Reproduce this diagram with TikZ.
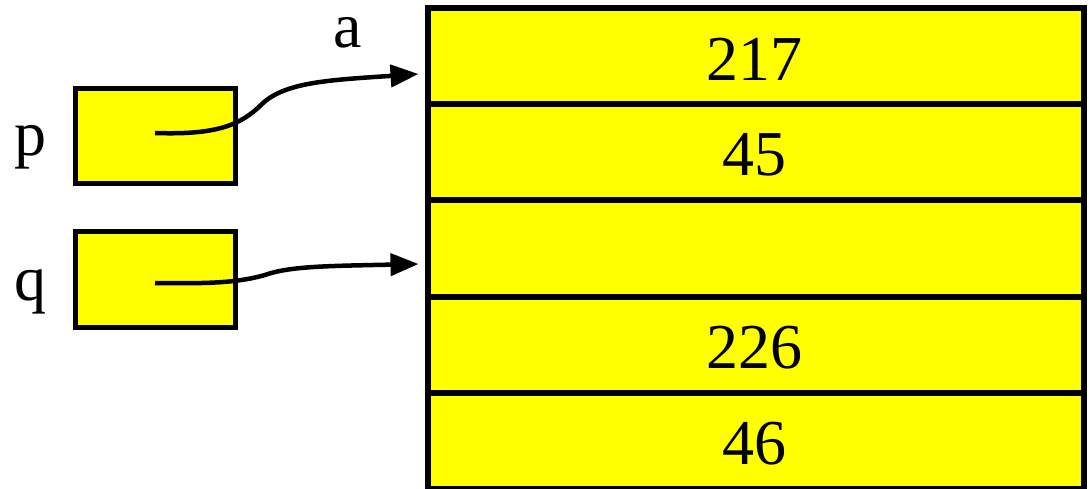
\documentclass[tikz,border=0pt]{standalone}
\usepackage{fontspec}
\setmainfont{Liberation Serif}
\usetikzlibrary{arrows.meta,calc}
\definecolor{cellyellow}{RGB}{255,255,0}
\begin{document}
\begin{tikzpicture}[x=1pt,y=-1pt,
  cell/.style={draw=black,line width=6pt,fill=cellyellow,minimum width=656pt,minimum height=96pt,inner sep=0pt,outer sep=0pt,font=\fontsize{64}{70}\selectfont},
  ptrbox/.style={draw=black,line width=5pt,fill=cellyellow,minimum width=159.5pt,minimum height=95.5pt,inner sep=0pt,outer sep=0pt},
  lbl/.style={font=\fontsize{64}{70}\selectfont,inner sep=0pt,anchor=base},
  ptr/.style={line width=4.5pt,-{Triangle[length=28pt,width=22pt]}}]
\useasboundingbox (0,0) rectangle (1089,489);
% array cells
\node[cell] (c1) at (755.5,56.5) {};
\node[cell] (c2) at (755.5,152.5) {};
\node[cell] (c3) at (755.5,248.5) {};
\node[cell] (c4) at (755.5,344.5) {};
\node[cell] (c5) at (755.5,440.5) {};
\node[lbl] (t1) at (754,80.7) {217};
\node[lbl] (t2) at (754,175.5) {45};
\node[lbl] (t4) at (754,368.5) {226};
\node[lbl] (t5) at (754,464) {46};
% pointer boxes
\node[ptrbox] (p) at (155.25,136.25) {};
\node[ptrbox] (q) at (155.25,279.5) {};
% labels
\node[lbl] (la) at (348,48) {a};
\node[lbl] (lp) at (30,156) {p};
\node[lbl] (lq) at (30,300) {q};
% arrow ends
\coordinate (ps) at (155,133);
\coordinate (qs) at (155,283);
\coordinate (pe) at ($(c1.west)+(-9,17.5)$);
\coordinate (qe) at ($(c3.west)+(-9,15.5)$);
\draw[ptr] (ps) .. controls (215,135) and (240,126) .. (262,104)
  .. controls (285,82) and (330,80) .. (pe);
\draw[ptr] (qs) .. controls (215,284) and (240,282) .. (265,275)
  .. controls (290,266) and (330,266) .. (qe);
\end{tikzpicture}
\end{document}
